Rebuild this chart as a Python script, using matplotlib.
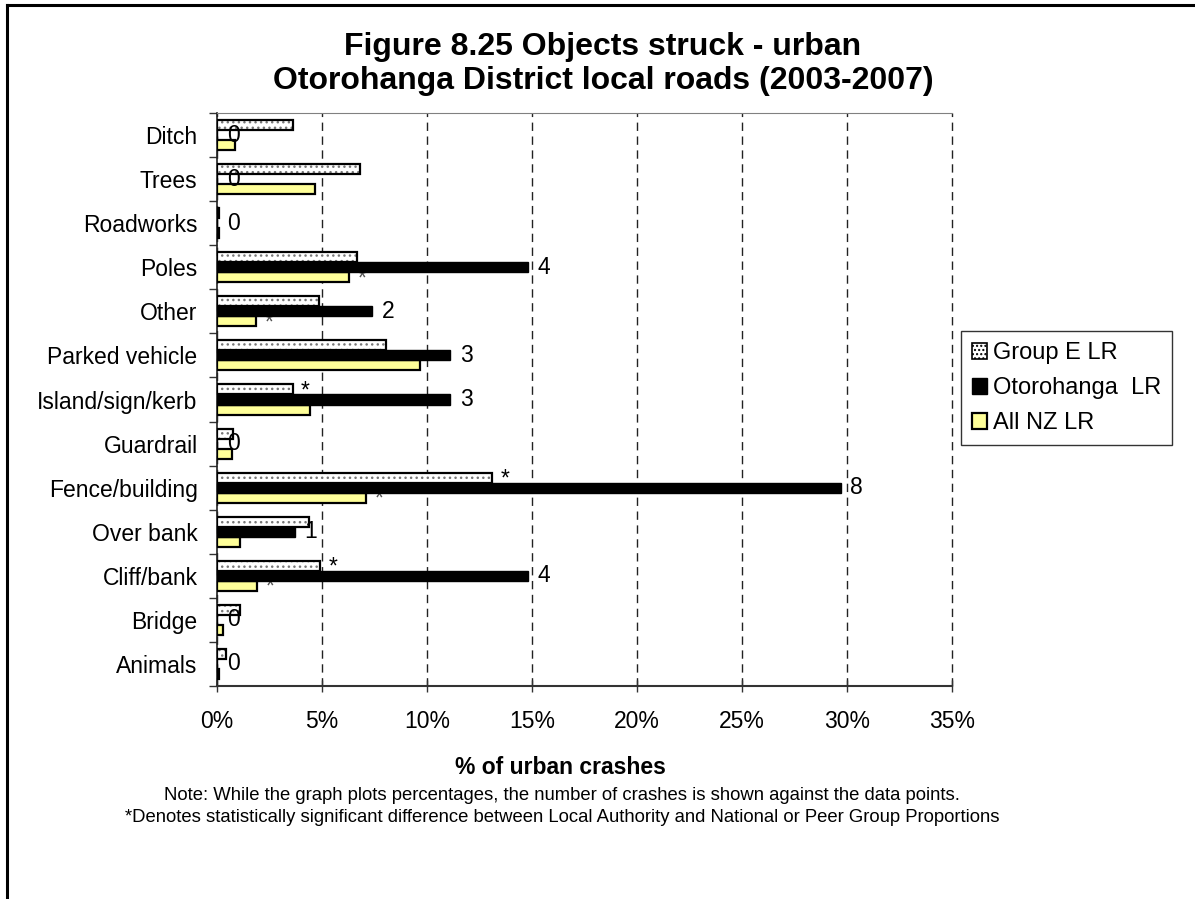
import numpy as np
import matplotlib.pyplot as plt
from matplotlib.patches import Patch
from matplotlib.lines import Line2D

plt.rcParams['font.family'] = ['Liberation Sans', 'DejaVu Sans']
plt.rcParams['hatch.linewidth'] = 1.0

# Data (% of urban crashes)
categories = ['Ditch', 'Trees', 'Roadworks', 'Poles', 'Other', 'Parked vehicle',
              'Island/sign/kerb', 'Guardrail', 'Fence/building', 'Over bank',
              'Cliff/bank', 'Bridge', 'Animals']
group_e = [3.6, 6.8, 0.1, 6.65, 4.85, 8.05, 3.6, 0.75, 13.1, 4.4, 4.9, 1.1, 0.45]
otorohanga = [0, 0, 0, 14.8, 7.4, 11.1, 11.1, 0, 29.7, 3.7, 14.8, 0, 0]
all_nz = [0.85, 4.65, 0.08, 6.3, 1.85, 9.65, 4.45, 0.7, 7.1, 1.1, 1.9, 0.3, 0.08]
crash_counts = [0, 0, 0, 4, 2, 3, 3, 0, 8, 1, 4, 0, 0]
signif_group = [False, False, False, False, False, False, True, False, True, False, True, False, False]
signif_nz = [False, False, False, True, True, False, False, False, True, False, True, False, False]

FS = 16.5

fig = plt.figure(figsize=(11.95, 8.99), dpi=100)
ax = fig.add_axes([217 / 1195, 1 - 686 / 899, 735 / 1195, 573 / 899])

y = np.arange(len(categories))
h = 0.227

# Group E: dotted fill, then black outline on top
ax.barh(y - h, group_e, height=h, color='white', edgecolor='#777777',
        hatch='...', linewidth=0, zorder=3)
ax.barh(y - h, group_e, height=h, color='none', edgecolor='black',
        linewidth=1.6, zorder=4)
ax.barh(y, otorohanga, height=h, color='black', edgecolor='black',
        linewidth=1.0, zorder=4)
ax.barh(y + h, all_nz, height=h, color='#FFFF99', edgecolor='black',
        linewidth=1.6, zorder=3)

# crash counts next to the local authority bars
for i, (v, n) in enumerate(zip(otorohanga, crash_counts)):
    ax.annotate(str(n), (v, y[i]), xytext=(7, 0), textcoords='offset points',
                va='center', ha='left', fontsize=FS, zorder=6)

# significance markers (the national ones sit mostly hidden behind the black bars)
for i, s in enumerate(signif_group):
    if s:
        ax.annotate('*', (group_e[i], y[i] - h), xytext=(6, -1),
                    textcoords='offset points', va='center', ha='left',
                    fontsize=FS, zorder=6)
for i, s in enumerate(signif_nz):
    if s:
        ax.annotate('*', (all_nz[i], y[i] + h), xytext=(6, -1),
                    textcoords='offset points', va='center', ha='left',
                    fontsize=FS, color='#555555', zorder=3.5)

ax.set_xlim(0, 35)
ax.set_ylim(len(categories) - 0.5, -0.5)
ax.set_xticks(np.arange(0, 36, 5))
ax.set_xticklabels([f'{t}%' for t in range(0, 36, 5)], fontsize=FS)
ax.set_yticks(y)
ax.set_yticklabels(categories, fontsize=FS)
ax.set_yticks(np.arange(-0.5, len(categories), 1), minor=True)
ax.tick_params(axis='y', which='major', length=0, pad=14)
ax.tick_params(axis='y', which='minor', length=6, width=1, color='#333333')
ax.tick_params(axis='x', direction='inout', length=9, width=1, color='#333333', pad=13)

ax.grid(axis='x', linestyle=(0, (6, 4)), color='#222222', linewidth=1, zorder=1)
ax.set_axisbelow(True)
for gl in ax.get_xgridlines():
    gl.set_clip_on(False)

ax.spines['right'].set_visible(False)
ax.spines['top'].set_color('#808080')
ax.spines['left'].set_color('#222222')
ax.spines['left'].set_linewidth(1.2)
ax.spines['bottom'].set_color('#333333')
ax.spines['bottom'].set_linewidth(1.5)

fig.text(560 / 1195, 1 - 767 / 899, '% of urban crashes', ha='center', va='center',
         fontsize=FS, fontweight='bold')

fig.text(603 / 1195, 1 - 64 / 899,
         'Figure 8.25 Objects struck - urban\nOtorohanga District local roads (2003-2007)',
         ha='center', va='center', fontsize=23, fontweight='bold', linespacing=1.15)
fig.text(562 / 1195, 1 - 795 / 899,
         'Note: While the graph plots percentages, the number of crashes is shown against the data points.',
         ha='center', va='center', fontsize=13.3)
fig.text(562 / 1195, 1 - 818 / 899,
         '*Denotes statistically significant difference between Local Authority and National or Peer Group Proportions',
         ha='center', va='center', fontsize=13.3)

handles = [Patch(facecolor='white', edgecolor='black', hatch='....', linewidth=1.2),
           Patch(facecolor='black', edgecolor='black'),
           Patch(facecolor='#FFFF99', edgecolor='black', linewidth=1.6)]
leg = fig.legend(handles, ['Group E LR', 'Otorohanga  LR', 'All NZ LR'],
                 loc='center left', bbox_to_anchor=(961 / 1195, 1 - 388 / 899),
                 fontsize=17, frameon=True, fancybox=False, handlelength=0.65,
                 handleheight=0.65, handletextpad=0.25, labelspacing=0.55,
                 borderpad=0.45, borderaxespad=0)
leg.get_frame().set_edgecolor('black')
leg.get_frame().set_linewidth(1.0)

# outer chart frame (cut off at right and bottom)
fig.add_artist(Line2D([7 / 1195, 7 / 1195], [0, 1 - 5 / 899], color='black', linewidth=2.2))
fig.add_artist(Line2D([7 / 1195, 1], [1 - 5 / 899, 1 - 5 / 899], color='black', linewidth=2.2))

fig.savefig('out.png', dpi=100)
